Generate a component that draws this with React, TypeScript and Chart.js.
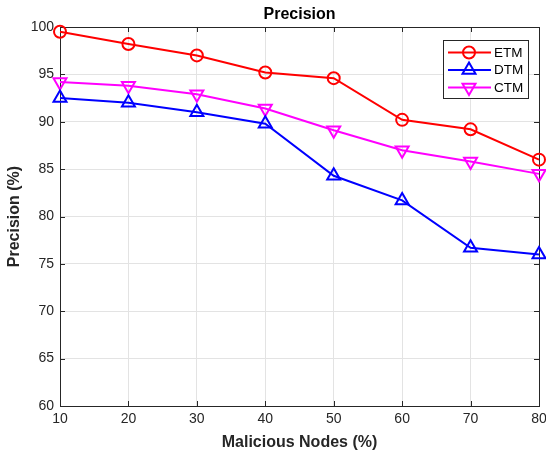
import React, { useEffect, useRef } from "react";
import { Chart, registerables } from "chart.js";

Chart.register(...registerables);

const malicious = [10, 20, 30, 40, 50, 60, 70, 80];
const etm = [99.5, 98.2, 97.0, 95.2, 94.6, 90.2, 89.2, 86.0];
const dtm = [92.5, 92.0, 91.0, 89.8, 84.3, 81.7, 76.7, 76.0];
const ctm = [94.2, 93.8, 92.9, 91.4, 89.1, 87.0, 85.8, 84.5];
const seriesNames = ["ETM", "DTM", "CTM"];
const xTicks = [10, 20, 30, 40, 50, 60, 70, 80];
const yTicks = [60, 65, 70, 75, 80, 85, 90, 95, 100];
const chartTitle = "Precision";

const FONT = "'Liberation Sans', Arial, Helvetica, sans-serif";
const TEXT = "#262626";

function drawMarker(ctx: CanvasRenderingContext2D, o: any, x: number, y: number, color: string) {
  ctx.save();
  ctx.strokeStyle = color;
  ctx.lineWidth = o.borderWidth;
  ctx.beginPath();
  if (o.pointStyle === "circle") {
    ctx.arc(x, y, o.radius, 0, Math.PI * 2);
  } else {
    let rad = (o.rotation * Math.PI) / 180;
    const r = o.radius;
    ctx.moveTo(x + Math.sin(rad) * r, y - Math.cos(rad) * r);
    rad += (2 * Math.PI) / 3;
    ctx.lineTo(x + Math.sin(rad) * r, y - Math.cos(rad) * r);
    rad += (2 * Math.PI) / 3;
    ctx.lineTo(x + Math.sin(rad) * r, y - Math.cos(rad) * r);
    ctx.closePath();
  }
  ctx.stroke();
  ctx.restore();
}

const frame = {
  id: "frame",
  beforeDatasetsDraw(chart: any) {
    const { ctx, chartArea: a, scales } = chart;
    ctx.save();
    ctx.strokeStyle = TEXT;
    ctx.lineWidth = 1;
    const L = 5;
    ctx.beginPath();
    scales.x.ticks.forEach((t: any) => {
      const px = Math.round(scales.x.getPixelForValue(t.value)) + 0.5;
      ctx.moveTo(px, a.bottom);
      ctx.lineTo(px, a.bottom - L);
      ctx.moveTo(px, a.top);
      ctx.lineTo(px, a.top + L);
    });
    scales.y.ticks.forEach((t: any) => {
      const py = Math.round(scales.y.getPixelForValue(t.value)) + 0.5;
      ctx.moveTo(a.left, py);
      ctx.lineTo(a.left + L, py);
      ctx.moveTo(a.right, py);
      ctx.lineTo(a.right - L, py);
    });
    ctx.stroke();
    ctx.strokeRect(Math.round(a.left) + 0.5, Math.round(a.top) + 0.5, Math.round(a.right - a.left), Math.round(a.bottom - a.top));
    // title centred over the plot area
    ctx.fillStyle = "#000000";
    ctx.font = `bold 16px ${FONT}`;
    ctx.textAlign = "center";
    ctx.textBaseline = "middle";
    ctx.fillText(chartTitle, (a.left + a.right) / 2, a.top - 12.5);
    ctx.restore();
  },
  afterDatasetsDraw(chart: any) {
    const { ctx, chartArea: a } = chart;
    const w = 85, h = 58;
    const bx = a.right - 96, by = a.top + 13;
    ctx.save();
    ctx.fillStyle = "#ffffff";
    ctx.fillRect(bx, by, w, h);
    ctx.strokeStyle = TEXT;
    ctx.lineWidth = 1;
    ctx.strokeRect(Math.round(bx) + 0.5, Math.round(by) + 0.5, w, h);
    chart.data.datasets.forEach((ds: any, i: number) => {
      const cy = by + 12.5 + i * 17.5;
      ctx.strokeStyle = ds.borderColor;
      ctx.lineWidth = 2;
      ctx.beginPath();
      ctx.moveTo(bx + 5, cy);
      ctx.lineTo(bx + 48, cy);
      ctx.stroke();
      drawMarker(
        ctx,
        { pointStyle: ds.pointStyle, radius: ds.pointRadius, rotation: ds.pointRotation || 0, borderWidth: 2 },
        bx + 26,
        cy,
        ds.borderColor
      );
      ctx.fillStyle = "#000000";
      ctx.font = `13.5px ${FONT}`;
      ctx.textBaseline = "middle";
      ctx.textAlign = "left";
      ctx.fillText(ds.label, bx + 51, cy + 0.5);
    });
    ctx.restore();
  },
};

export default function App() {
  const ref = useRef<HTMLCanvasElement>(null);
  useEffect(() => {
    if (!ref.current) return;
    const mk = (vals: number[]) => vals.map((v, i) => ({ x: malicious[i], y: v }));
    const colors = ["#ff0000", "#0000ff", "#ff00ff"];
    const styles = ["circle", "triangle", "triangle"];
    const rots = [0, 0, 180];
    const radii = [6, 7.5, 7.5];
    const chart = new Chart(ref.current, {
      type: "line",
      data: {
        datasets: [etm, dtm, ctm].map((vals, i) => ({
          label: seriesNames[i],
          data: mk(vals),
          borderColor: colors[i],
          backgroundColor: "rgba(0,0,0,0)",
          borderWidth: 2,
          pointStyle: styles[i] as any,
          pointRotation: rots[i],
          pointRadius: radii[i],
          pointBorderWidth: 2,
          pointBorderColor: colors[i],
          pointBackgroundColor: "rgba(0,0,0,0)",
          tension: 0,
          clip: false as any,
        })),
      },
      options: {
        animation: false,
        responsive: true,
        maintainAspectRatio: false,
        layout: { padding: { left: 0, right: 7, top: 27, bottom: 0 }, autoPadding: false } as any,
        plugins: {
          legend: { display: false },
          tooltip: { enabled: false },
          title: { display: false },
        },
        scales: {
          x: {
            type: "linear",
            min: 10,
            max: 80,
            afterBuildTicks: (s: any) => {
              s.ticks = xTicks.map((v) => ({ value: v }));
            },
            afterFit: (s: any) => {
              s.height = 49;
              s.paddingLeft = 0;
              s.paddingRight = 0;
            },
            ticks: {
              color: TEXT,
              font: { family: FONT, size: 14 },
              padding: 5,
              maxRotation: 0,
              autoSkip: false,
            },
            grid: { color: "#e3e3e3", drawTicks: false, tickLength: 0 },
            border: { display: false },
            title: {
              display: true,
              text: "Malicious Nodes (%)",
              color: TEXT,
              font: { family: FONT, size: 16, weight: "bold", lineHeight: 1.2 },
              padding: { top: 0, bottom: 3 },
            },
          },
          y: {
            type: "linear",
            min: 60,
            max: 100,
            afterBuildTicks: (s: any) => {
              s.ticks = yTicks.map((v) => ({ value: v }));
            },
            afterFit: (s: any) => {
              s.width = 60;
              s.paddingTop = 0;
              s.paddingBottom = 0;
            },
            ticks: {
              color: TEXT,
              font: { family: FONT, size: 14 },
              padding: 6,
              autoSkip: false,
            },
            grid: { color: "#e3e3e3", drawTicks: false, tickLength: 0 },
            border: { display: false },
            title: {
              display: true,
              text: "Precision (%)",
              color: TEXT,
              font: { family: FONT, size: 16, weight: "bold", lineHeight: 1.2 },
              padding: { top: 4.5, bottom: 0 },
            },
          },
        },
      },
      plugins: [frame],
    });
    return () => chart.destroy();
  }, []);
  return (
    <div style={{ position: "absolute", left: 0, top: 0, width: 546, height: 455, background: "#ffffff" }}>
      <canvas ref={ref} />
    </div>
  );
}
